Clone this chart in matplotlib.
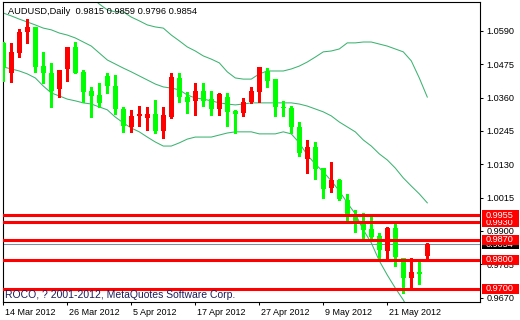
import matplotlib
matplotlib.use("Agg")
import matplotlib.pyplot as plt
import matplotlib.patches as patches
import matplotlib.transforms as mtransforms
import numpy as np

# daily AUDUSD bars (14 Mar 2012 .. 28 May 2012)
opens = [1.0549, 1.0445, 1.0514, 1.0587, 1.0604, 1.0469, 1.0445, 1.0390, 1.0459, 1.0535,
         1.0449, 1.0383, 1.0369, 1.0435, 1.0400, 1.0321, 1.0259, 1.0297, 1.0290, 1.0304,
         1.0245, 1.0293, 1.0428, 1.0362, 1.0349, 1.0383, 1.0355, 1.0321, 1.0362, 1.0314,
         1.0307, 1.0345, 1.0380, 1.0452, 1.0424, 1.0328, 1.0324, 1.0259, 1.0148, 1.0190,
         1.0117, 1.0048, 1.0076, 1.0007, 0.9955, 0.9928, 0.9907, 0.9883, 0.9831, 0.9910,
         0.9807, 0.9738, 0.9759, 0.9815]
highs = [1.0552, 1.0549, 1.0597, 1.0631, 1.0605, 1.0518, 1.0480, 1.0456, 1.0536, 1.0552,
         1.0455, 1.0397, 1.0411, 1.0445, 1.0438, 1.0328, 1.0318, 1.0331, 1.0328, 1.0352,
         1.0328, 1.0445, 1.0445, 1.0380, 1.0411, 1.0411, 1.0383, 1.0376, 1.0376, 1.0318,
         1.0359, 1.0397, 1.0467, 1.0462, 1.0425, 1.0349, 1.0331, 1.0276, 1.0214, 1.0207,
         1.0118, 1.0138, 1.0079, 1.0028, 0.9972, 0.9962, 0.9959, 0.9893, 0.9914, 0.9924,
         0.9808, 0.9807, 0.9793, 0.9859]
lows = [1.0418, 1.0414, 1.0500, 1.0549, 1.0449, 1.0411, 1.0328, 1.0362, 1.0418, 1.0444,
        1.0345, 1.0293, 1.0328, 1.0376, 1.0304, 1.0242, 1.0242, 1.0262, 1.0249, 1.0238,
        1.0221, 1.0290, 1.0345, 1.0307, 1.0300, 1.0331, 1.0300, 1.0300, 1.0262, 1.0238,
        1.0297, 1.0342, 1.0345, 1.0397, 1.0297, 1.0297, 1.0238, 1.0159, 1.0100, 1.0079,
        1.0014, 1.0035, 1.0007, 0.9931, 0.9897, 0.9869, 0.9876, 0.9800, 0.9800, 0.9779,
        0.9686, 0.9703, 0.9717, 0.9796]
closes = [1.0462, 1.0518, 1.0587, 1.0604, 1.0466, 1.0445, 1.0383, 1.0455, 1.0535, 1.0445,
          1.0380, 1.0366, 1.0342, 1.0400, 1.0321, 1.0262, 1.0297, 1.0304, 1.0304, 1.0245,
          1.0300, 1.0431, 1.0362, 1.0345, 1.0383, 1.0349, 1.0321, 1.0373, 1.0311, 1.0304,
          1.0345, 1.0383, 1.0466, 1.0418, 1.0328, 1.0324, 1.0259, 1.0169, 1.0190, 1.0114,
          1.0045, 1.0076, 1.0010, 0.9952, 0.9931, 0.9904, 0.9879, 0.9835, 0.9910, 0.9810,
          0.9738, 0.9759, 0.9752, 0.9854]

# bollinger bands as drawn (upper band is above the window for the first bars)
nan = np.nan
upper = [nan, nan, nan, nan, nan, nan, nan, nan, nan, nan,
         nan, 1.0707, 1.0683, 1.0663, 1.0656, 1.0656, 1.0638, 1.0625, 1.0611, 1.0604,
         1.0600, 1.0576, 1.0556, 1.0535, 1.0521, 1.0504, 1.0493, 1.0480, 1.0449, 1.0428,
         1.0424, 1.0424, 1.0442, 1.0452, 1.0452, 1.0452, 1.0459, 1.0469, 1.0483, 1.0500,
         1.0518, 1.0521, 1.0528, 1.0549, 1.0549, 1.0552, 1.0552, 1.0545, 1.0538, 1.0528,
         1.0518, 1.0487, 1.0428, 1.0362]
middle = [1.0652, 1.0642, 1.0631, 1.0621, 1.0611, 1.0600, 1.0594, 1.0583, 1.0576, 1.0566,
          1.0552, 1.0538, 1.0514, 1.0490, 1.0476, 1.0462, 1.0449, 1.0435, 1.0421, 1.0407,
          1.0397, 1.0393, 1.0387, 1.0369, 1.0359, 1.0355, 1.0349, 1.0342, 1.0338, 1.0335,
          1.0338, 1.0342, 1.0342, 1.0342, 1.0342, 1.0342, 1.0342, 1.0338, 1.0331, 1.0321,
          1.0311, 1.0297, 1.0276, 1.0259, 1.0242, 1.0214, 1.0193, 1.0166, 1.0145, 1.0117,
          1.0083, 1.0055, 1.0028, 0.9997]
lower = [1.0466, 1.0459, 1.0452, 1.0442, 1.0428, 1.0400, 1.0376, 1.0366, 1.0355, 1.0349,
         1.0342, 1.0338, 1.0328, 1.0318, 1.0293, 1.0273, 1.0255, 1.0242, 1.0224, 1.0207,
         1.0193, 1.0193, 1.0204, 1.0217, 1.0224, 1.0224, 1.0224, 1.0231, 1.0238, 1.0242,
         1.0242, 1.0242, 1.0235, 1.0235, 1.0235, 1.0242, 1.0235, 1.0204, 1.0162, 1.0131,
         1.0104, 1.0073, 1.0038, 0.9997, 0.9959, 0.9904, 0.9859, 0.9797, 0.9748, 0.9703,
         0.9662, 0.9610, 0.9559, 0.9507]

levels = [0.9700, 0.9800, 0.9870, 0.9930, 0.9955]
last_price = 0.9854
price_ticks = [1.0590, 1.0475, 1.0360, 1.0245, 1.0130, 1.0015, 0.9900, 0.9785, 0.9670]
date_pos = [0, 8, 16, 24, 32, 40, 48]
date_labels = ["14 Mar 2012", "26 Mar 2012", "5 Apr 2012", "17 Apr 2012",
               "27 Apr 2012", "9 May 2012", "21 May 2012"]

plt.rcParams['font.family'] = ['Liberation Sans', 'DejaVu Sans']
fs_price = 6.6
fs_date = 6.5

fig = plt.figure(figsize=(5.2, 3.2), dpi=100)
ax = fig.add_axes([3 / 520, 18 / 320, 477 / 520, 300 / 320])
ax.set_xlim(-0.0375, 59.59)
ax.set_ylim(0.965486, 1.069007)

x = np.arange(len(opens))
o = np.array(opens)
c = np.array(closes)
up = c >= o
cols = np.where(up, '#ff0000', '#00ff00')

# wicks + bodies
ax.vlines(x, lows, highs, colors=cols, linewidth=0.75, antialiased=False, zorder=3)
body_h = np.maximum(np.abs(c - o), 0.0004)
body_b = np.minimum(o, c)
ax.bar(x, body_h, bottom=body_b, width=0.62, color=cols, linewidth=0,
       antialiased=False, zorder=4)

band_col = '#3cb371'
for band in (upper, middle, lower):
    ax.plot(x, band, color=band_col, linewidth=0.75, zorder=2)

for lv in levels:
    ax.axhline(lv, color='#ff0000', linewidth=2.2, zorder=5)
ax.axhline(last_price, color='#7f8fa6', linewidth=0.75, zorder=1)

# right price scale
ax.yaxis.tick_right()
ax.set_yticks(price_ticks)
ax.set_yticklabels(["%.4f" % v for v in price_ticks], fontsize=fs_price)
ax.tick_params(axis='y', direction='out', length=2.5, width=0.75, pad=2)

ax.set_xticks(date_pos)
ax.set_xticklabels(date_labels, fontsize=fs_date, ha='left')
ax.tick_params(axis='x', direction='out', length=2.5, width=0.75, pad=2)
shift = mtransforms.ScaledTranslation(2 / 100, 0, fig.dpi_scale_trans)
for lab in ax.get_xticklabels():
    lab.set_transform(lab.get_transform() + shift)

for sp in ax.spines.values():
    sp.set_linewidth(0.8)
    sp.set_color('black')

# price tags on the right
tr = mtransforms.blended_transform_factory(ax.transAxes, ax.transData)
box_x = (482 - 3) / 477
box_w = 37 / 477
box_h = 10 / 2898
txt_x = (486 - 3) / 477

def tag(val, face, z):
    r = patches.Rectangle((box_x, val - box_h / 2), box_w, box_h, transform=tr,
                          facecolor=face, edgecolor='none', clip_on=False, zorder=z)
    ax.add_patch(r)
    ax.text(txt_x, val, "%.4f" % val, transform=tr, color='white', fontsize=fs_price,
            va='center', ha='left', clip_on=False, zorder=z + 0.1)

tag(last_price, 'black', 6)
z = 7
for lv in levels:
    tag(lv, '#ff0000', z)
    z += 1

ax.text(5 / 477, 1 - 9 / 300, "AUDUSD,Daily  0.9815 0.9859 0.9796 0.9854",
        transform=ax.transAxes, fontsize=6.7, color='black', va='center', ha='left', zorder=10)
ax.text(2 / 477, 7 / 300, "ROCO, ? 2001-2012, MetaQuotes Software Corp.",
        transform=ax.transAxes, fontsize=7.5, color='#1c1c5a', va='center', ha='left', zorder=10)

fig.savefig("out.png", dpi=100, facecolor='white')
